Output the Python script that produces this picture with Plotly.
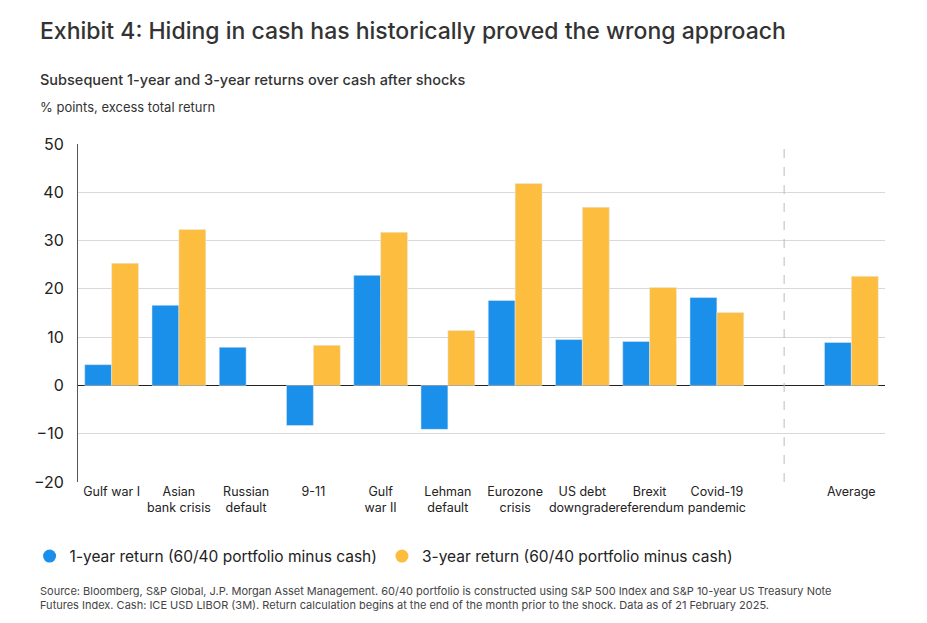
import plotly.graph_objects as go

categories = ["Gulf war I", "Asian<br>bank crisis", "Russian<br>default", "9-11", "Gulf<br>war II",
              "Lehman<br>default", "Eurozone<br>crisis", "US debt<br>downgrade", "Brexit<br>referendum",
              "Covid-19<br>pandemic", "", "Average"]
one_year = [4.3, 16.6, 7.9, -8.3, 22.8, -9.1, 17.6, 9.5, 9.1, 18.2, None, 8.9]
three_year = [25.3, 32.3, None, 8.3, 31.7, 11.4, 41.8, 36.9, 20.3, 15.1, None, 22.6]
xpos = list(range(len(categories)))
yticks = [-20, -10, 0, 10, 20, 30, 40, 50]
names = ["1-year return (60/40 portfolio minus cash)", "3-year return (60/40 portfolio minus cash)"]
colors = ["#1a90ea", "#fdbd3e"]

font = "Inter, Roboto, sans-serif"
fig = go.Figure()
fig.add_bar(x=xpos, y=one_year, name=names[0], marker_color=colors[0], showlegend=False)
fig.add_bar(x=xpos, y=three_year, name=names[1], marker_color=colors[1], showlegend=False)
for n, c in zip(names, colors):
    fig.add_scatter(x=[None], y=[None], mode="markers", name=n,
                    marker=dict(color=c, size=13, symbol="circle"))
fig.add_shape(type="line", x0=10, x1=10, y0=-20, y1=50, xref="x", yref="y",
              line=dict(color="#bbbbbb", width=1, dash="dash"))
fig.update_layout(
    width=927, height=623, plot_bgcolor="white", paper_bgcolor="white",
    margin=dict(l=70, r=50, t=136, b=149, autoexpand=False),
    barmode="group", bargap=0.2, bargroupgap=0.0,
    font=dict(family=font, color="#222", size=13),
    xaxis=dict(tickmode="array", tickvals=xpos, ticktext=categories, range=[-0.5, 11.5],
               showgrid=False, ticks="", tickangle=0, tickfont=dict(size=12.5)),
    yaxis=dict(range=[-20, 50], tickvals=yticks, gridcolor="#d9d9d9", zeroline=True,
               zerolinecolor="#222", zerolinewidth=1, showline=True, linecolor="#555",
               tickfont=dict(size=16), ticklabelstandoff=10),
    legend=dict(orientation="h", x=-0.06, y=-0.17, xanchor="left", yanchor="top",
                font=dict(size=15.5), itemwidth=30),
    showlegend=True,
)
W, H = 927-70-50, 623-136-149
def pann(text, px, py, size, color="#333", weight="normal"):
    fig.add_annotation(text=text, x=(px-70)/W, y=(623-149-py)/H, xref="paper", yref="paper",
                       showarrow=False, xanchor="left", yanchor="middle",
                       font=dict(size=size, color=color, weight=weight), align="left")
pann("Exhibit 4: Hiding in cash has historically proved the wrong approach", 30, 23, 23, "#333", 500)
pann("Subsequent 1-year and 3-year returns over cash after shocks", 30, 72, 14.5, "#333", 500)
pann("% points, excess total return", 30, 99, 13)
pann("Source: Bloomberg, S&P Global, J.P. Morgan Asset Management. 60/40 portfolio is constructed using S&P 500 Index and S&P 10-year US Treasury Note<br>Futures Index. Cash: ICE USD LIBOR (3M). Return calculation begins at the end of the month prior to the shock. Data as of 21 February 2025.",
     30, 590, 11, "#444")
fig.write_html("out.html")
